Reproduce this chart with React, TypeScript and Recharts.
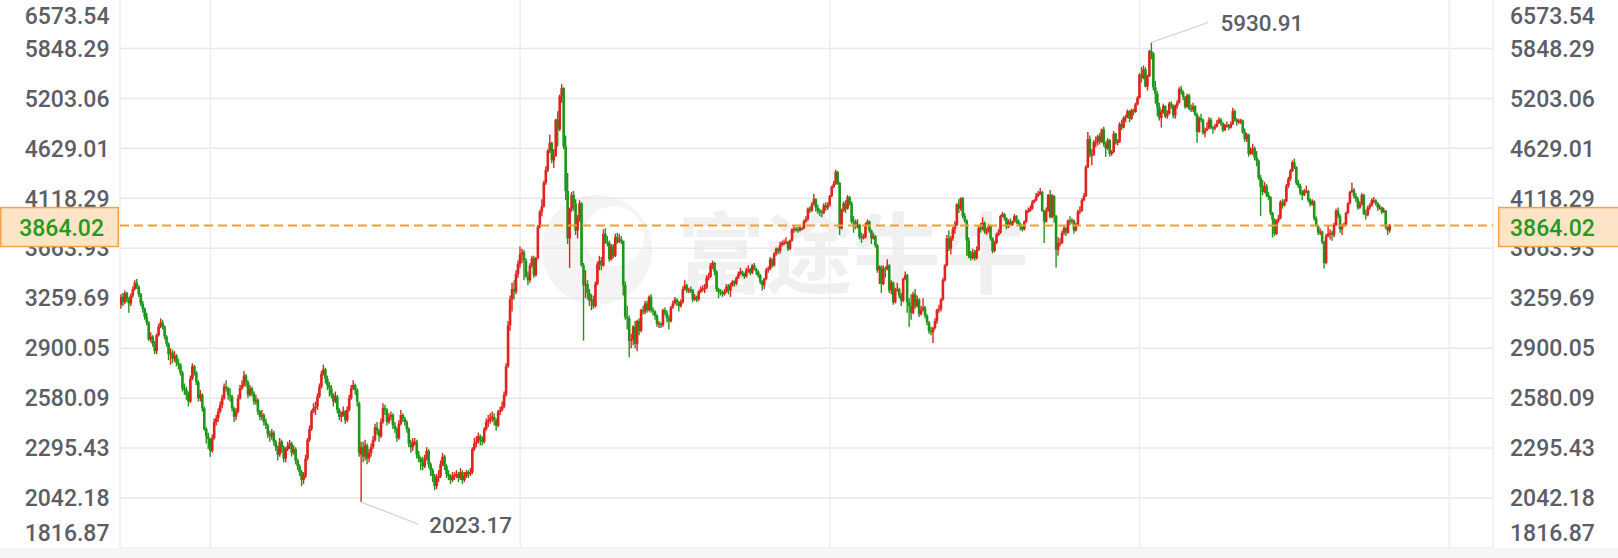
import React from 'react';
import { ComposedChart, Bar, XAxis, YAxis, CartesianGrid, ReferenceLine } from 'recharts';

type Candle = [number, number, number, number]; // open, high, low, close

const y2011: Candle[] = [
  [3210,3290,3180,3270],[3270,3300,3200,3230],[3230,3320,3215,3300],[3300,3310,3230,3250],[3250,3270,3150,3220],
  [3220,3295,3200,3280],[3280,3350,3265,3330],[3330,3400,3320,3380],[3380,3410,3330,3350],[3350,3360,3270,3290],
  [3290,3300,3200,3220],[3220,3240,3150,3180],[3180,3190,3100,3120],[3120,3150,3060,3080],[3080,3090,2950,2960],
  [2960,3010,2940,2980],[2980,2990,2910,2930],[2930,2950,2860,2880],[2880,3000,2860,2990],[2990,3070,2980,3050],
  [3050,3110,3040,3080],[3080,3100,3030,3050],[3050,3060,2960,2980],[2980,2990,2910,2930],[2930,2940,2820,2860],
  [2860,2900,2790,2870],[2870,2890,2800,2830],[2830,2880,2810,2850],[2850,2860,2780,2800],[2800,2830,2760,2790],
  [2790,2800,2720,2740],[2740,2750,2620,2640],[2640,2670,2600,2630],[2630,2650,2570,2600],[2600,2620,2530,2560],
  [2560,2720,2550,2700],[2700,2800,2690,2780],[2780,2790,2720,2740],[2740,2750,2660,2680],[2680,2690,2560,2580],
  [2580,2630,2560,2600],[2600,2610,2500,2520],[2520,2530,2390,2400],[2400,2410,2320,2360],[2360,2380,2290,2345],
];
const y2012: Candle[] = [
  [2345,2350,2250,2280],[2280,2370,2270,2350],[2350,2460,2340,2440],[2440,2480,2420,2460],[2460,2520,2440,2500],
  [2500,2560,2490,2540],[2540,2600,2520,2580],[2580,2670,2570,2650],[2650,2690,2620,2640],[2640,2650,2570,2600],
  [2600,2640,2560,2590],[2590,2600,2500,2520],[2520,2530,2440,2470],[2470,2520,2450,2500],[2500,2600,2490,2580],
  [2580,2660,2570,2640],[2640,2690,2630,2660],[2660,2750,2650,2720],[2720,2730,2650,2680],[2680,2690,2580,2600],
  [2600,2660,2590,2640],[2640,2650,2590,2610],[2610,2620,2540,2560],[2560,2600,2540,2570],[2570,2580,2480,2500],
  [2500,2510,2450,2470],[2470,2510,2450,2480],[2480,2490,2420,2440],[2440,2460,2400,2420],[2420,2430,2350,2370],
  [2370,2390,2330,2360],[2360,2400,2340,2380],[2380,2390,2310,2330],[2330,2340,2280,2300],[2300,2310,2230,2260],
  [2260,2350,2250,2330],[2330,2340,2270,2300],[2300,2310,2220,2240],[2240,2300,2220,2290],[2290,2330,2280,2310],
  [2310,2340,2290,2320],[2320,2330,2250,2270],[2270,2310,2260,2290],[2290,2300,2210,2230],[2230,2240,2180,2200],
  [2200,2210,2150,2170],[2170,2180,2100,2130],[2130,2170,2110,2150],[2150,2260,2140,2240],[2240,2350,2230,2340],
  [2340,2420,2330,2400],[2400,2510,2390,2500],
];
const y2013: Candle[] = [
  [2500,2550,2490,2520],[2520,2560,2480,2530],[2530,2610,2510,2590],[2590,2670,2580,2650],[2650,2750,2640,2730],
  [2730,2791,2720,2760],[2760,2770,2670,2700],[2700,2720,2630,2660],[2660,2680,2590,2640],[2640,2660,2580,2600],
  [2600,2610,2530,2560],[2560,2620,2550,2590],[2590,2600,2490,2510],[2510,2520,2450,2470],[2470,2500,2440,2480],
  [2480,2530,2470,2500],[2500,2510,2430,2450],[2450,2530,2440,2510],[2510,2600,2500,2580],[2580,2660,2570,2640],
  [2640,2690,2630,2660],[2660,2670,2600,2630],[2630,2640,2530,2560],[2550,2560,2250,2270],[2260,2330,2023.17,2300],
  [2300,2330,2220,2250],[2250,2340,2230,2310],[2310,2320,2210,2240],[2240,2290,2220,2270],[2270,2320,2250,2300],
  [2300,2360,2290,2340],[2340,2430,2330,2410],[2410,2440,2370,2390],[2390,2400,2330,2360],[2360,2460,2350,2440],
  [2440,2550,2430,2520],[2520,2540,2480,2510],[2510,2520,2420,2440],[2440,2490,2430,2470],[2470,2500,2450,2480],
  [2480,2490,2400,2420],[2420,2440,2380,2400],[2400,2410,2330,2350],[2350,2450,2340,2430],[2430,2510,2420,2480],
  [2480,2490,2440,2460],[2460,2470,2420,2440],[2440,2450,2380,2400],[2400,2410,2300,2320],[2320,2340,2270,2300],
  [2300,2350,2280,2330],[2320,2350,2310,2330],
];
const y2014: Candle[] = [
  [2330,2340,2240,2260],[2260,2280,2220,2240],[2240,2250,2180,2220],[2220,2250,2180,2200],[2200,2260,2190,2240],
  [2240,2300,2230,2280],[2280,2290,2190,2210],[2210,2220,2150,2180],[2180,2190,2120,2150],[2150,2160,2080,2100],
  [2100,2160,2086,2140],[2140,2180,2120,2150],[2150,2230,2140,2210],[2210,2270,2200,2250],[2250,2260,2180,2200],
  [2200,2210,2140,2160],[2160,2180,2130,2150],[2150,2160,2110,2130],[2130,2170,2120,2150],[2150,2170,2130,2155],
  [2150,2180,2140,2160],[2160,2170,2120,2140],[2140,2190,2130,2170],[2170,2180,2110,2130],[2130,2170,2120,2150],
  [2150,2180,2140,2170],[2170,2180,2140,2160],[2160,2190,2150,2170],[2170,2300,2160,2290],[2290,2350,2280,2320],
  [2320,2360,2300,2330],[2330,2380,2320,2360],[2360,2370,2310,2340],[2340,2360,2310,2330],[2330,2410,2320,2400],
  [2400,2460,2390,2440],[2440,2480,2410,2450],[2450,2490,2430,2460],[2460,2500,2440,2470],[2470,2490,2420,2450],
  [2450,2460,2390,2420],[2420,2510,2410,2500],[2500,2530,2480,2510],[2510,2560,2500,2530],[2530,2620,2520,2600],
  [2600,2800,2590,2780],[2780,3090,2770,3060],[3060,3280,3020,3250],[3250,3380,3160,3330],[3330,3400,3250,3310],
  [3310,3480,3290,3450],[3450,3560,3420,3530],
];
const y2015: Candle[] = [
  [3530,3680,3500,3610],[3610,3660,3540,3630],[3630,3650,3400,3560],[3560,3580,3420,3430],[3430,3470,3360,3400],
  [3400,3540,3380,3520],[3520,3600,3500,3580],[3580,3600,3420,3440],[3440,3590,3430,3580],[3580,3870,3570,3850],
  [3850,4010,3840,3990],[3990,4110,3950,4040],[4040,4290,4030,4270],[4270,4440,4250,4400],[4400,4620,4380,4600],
  [4600,4780,4580,4690],[4690,4700,4470,4500],[4500,4620,4420,4550],[4550,4960,4540,4950],[4950,5050,4650,4840],
  [4840,5250,4820,5230],[5230,5380,5150,5330],[5330,5340,4620,4650],[4650,4770,4100,4190],[4190,4370,3700,3750],
  [3750,4030,3500,4020],[4020,4180,3990,4150],[4150,4190,4000,4070],[4070,4110,3780,3820],[3820,3960,3750,3930],
  [3930,4100,3900,4070],[4070,4080,3510,3520],[3520,3540,2952,3360],[3360,3480,3260,3370],[3370,3400,3250,3300],
  [3300,3330,3200,3240],[3240,3290,3170,3250],[3250,3280,3180,3200],[3200,3390,3190,3370],[3370,3550,3360,3530],
  [3530,3600,3480,3560],[3560,3590,3480,3520],[3520,3830,3510,3790],[3790,3840,3700,3720],[3720,3770,3680,3710],
  [3710,3730,3550,3570],[3570,3700,3560,3680],[3680,3700,3580,3600],[3600,3790,3590,3760],[3760,3800,3700,3720],
  [3720,3790,3710,3740],[3740,3770,3700,3730],
];
const y2016: Candle[] = [
  [3730,3730,3280,3360],[3360,3390,3100,3120],[3120,3200,3030,3110],[3110,3130,2839,2950],[2950,3000,2900,2960],
  [2960,3060,2920,3050],[3050,3090,2900,2930],[2930,3100,2880,3090],[3090,3110,2990,3020],[3020,3180,3010,3170],
  [3170,3200,3140,3160],[3160,3240,3140,3220],[3220,3240,3150,3170],[3170,3280,3160,3270],[3270,3290,3150,3170],
  [3170,3190,3130,3160],[3160,3170,3100,3130],[3130,3140,3050,3070],[3070,3090,3040,3075],[3070,3080,3040,3060],
  [3060,3180,3050,3170],[3170,3190,3130,3150],[3150,3170,3080,3110],[3110,3130,3030,3090],[3090,3200,3080,3190],
  [3190,3240,3180,3220],[3220,3270,3210,3250],[3250,3260,3200,3230],[3230,3240,3160,3200],[3200,3250,3190,3230],
  [3230,3350,3220,3330],[3330,3400,3320,3360],[3360,3370,3300,3320],[3320,3340,3300,3325],[3325,3350,3300,3318],
  [3320,3330,3230,3250],[3250,3290,3240,3270],[3270,3280,3230,3250],[3250,3320,3240,3310],[3310,3350,3300,3330],
  [3330,3360,3310,3335],[3330,3370,3300,3340],[3340,3440,3330,3420],[3420,3460,3400,3430],[3430,3540,3420,3520],
  [3520,3560,3490,3540],[3540,3550,3440,3470],[3470,3480,3310,3330],[3330,3340,3260,3310],[3310,3330,3280,3300],
  [3300,3320,3270,3290],[3290,3330,3280,3310],
];
const y2017: Candle[] = [
  [3310,3370,3300,3350],[3350,3370,3290,3320],[3320,3380,3270,3360],[3360,3400,3350,3390],[3390,3400,3350,3370],
  [3370,3430,3360,3420],[3420,3470,3410,3450],[3450,3500,3440,3470],[3470,3480,3430,3450],[3450,3460,3410,3430],
  [3430,3500,3420,3480],[3480,3520,3460,3490],[3490,3500,3440,3460],[3460,3530,3450,3520],[3520,3540,3480,3490],
  [3490,3500,3440,3470],[3470,3480,3420,3440],[3440,3450,3370,3390],[3390,3400,3320,3360],[3360,3420,3330,3410],
  [3410,3500,3400,3480],[3480,3510,3460,3490],[3490,3590,3480,3570],[3570,3580,3500,3520],[3520,3630,3510,3620],
  [3620,3670,3600,3660],[3660,3670,3610,3640],[3640,3720,3620,3690],[3690,3730,3680,3710],[3705,3740,3690,3710],
  [3710,3760,3700,3720],[3720,3730,3640,3660],[3660,3740,3650,3730],[3730,3840,3720,3830],[3830,3860,3800,3835],
  [3830,3850,3810,3826],[3830,3850,3800,3820],[3820,3860,3810,3840],[3840,3850,3820,3836],[3840,3920,3830,3900],
  [3900,3950,3890,3920],[3920,4030,3910,4020],[4020,4040,3980,4000],[4000,4080,3990,4060],[4060,4160,4050,4110],
  [4110,4120,3990,4030],[4030,4060,3970,4000],[4000,4020,3950,3990],[3990,4010,3940,3980],[3980,4070,3970,4050],
  [4050,4080,4000,4030],[4030,4080,4010,4050],
];
const y2018: Candle[] = [
  [4050,4150,4040,4140],[4140,4240,4130,4230],[4230,4290,4220,4260],[4260,4403,4250,4380],[4380,4390,4250,4270],
  [4270,4280,3780,3840],[3840,4020,3830,4000],[4000,4090,3990,4070],[4070,4100,3980,4020],[4020,4150,4010,4130],
  [4130,4140,4050,4070],[4070,4090,3880,3900],[3905,3950,3800,3900],[3900,3920,3830,3850],[3850,3920,3840,3870],
  [3870,3880,3740,3760],[3765,3800,3710,3760],[3755,3790,3740,3762],[3760,3890,3750,3870],[3870,3920,3860,3900],
  [3900,3910,3800,3820],[3820,3830,3700,3750],[3750,3800,3740,3770],[3770,3780,3670,3690],[3690,3700,3460,3480],
  [3480,3520,3370,3510],[3510,3520,3300,3370],[3370,3520,3360,3490],[3495,3510,3420,3490],[3490,3570,3480,3520],
  [3520,3530,3300,3320],[3320,3400,3290,3380],[3380,3390,3210,3230],[3230,3340,3220,3320],[3320,3380,3310,3330],
  [3330,3340,3260,3280],[3280,3300,3200,3240],[3240,3420,3230,3410],[3410,3470,3400,3440],[3440,3450,3150,3230],
  [3230,3260,3050,3200],[3200,3290,3100,3150],[3150,3310,3140,3290],[3290,3330,3180,3200],[3200,3280,3190,3250],
  [3250,3260,3120,3140],[3140,3200,3130,3170],[3170,3260,3160,3190],[3190,3200,3110,3130],[3130,3140,3060,3080],
  [3080,3090,3000,3020],[3020,3050,2990,3010],
];
const y2019: Candle[] = [
  [3010,3050,2935,3040],[3040,3110,3030,3090],[3090,3180,3070,3170],[3170,3210,3150,3180],[3180,3260,3160,3250],
  [3250,3420,3240,3400],[3400,3530,3390,3520],[3520,3780,3510,3750],[3750,3820,3640,3660],[3660,3770,3610,3750],
  [3750,3850,3730,3830],[3830,3900,3790,3870],[3870,4070,3860,4060],[4060,4110,3980,4020],[4020,4127,4000,4120],
  [4120,4130,3930,3950],[3950,3980,3890,3910],[3910,3920,3600,3730],[3730,3760,3580,3600],[3600,3640,3560,3580],
  [3580,3660,3570,3630],[3630,3650,3560,3580],[3580,3680,3570,3650],[3650,3860,3640,3840],[3840,3890,3800,3830],
  [3830,3940,3820,3890],[3890,3900,3790,3810],[3805,3840,3780,3810],[3810,3880,3800,3860],[3860,3870,3730,3750],
  [3750,3760,3620,3640],[3640,3730,3630,3710],[3710,3800,3700,3780],[3780,3830,3770,3800],[3800,3960,3790,3950],
  [3950,3990,3940,3970],[3970,3980,3910,3930],[3930,3940,3830,3850],[3850,3920,3840,3900],[3900,3930,3860,3870],
  [3870,3910,3860,3900],[3900,3970,3890,3950],[3950,3960,3880,3910],[3910,3920,3860,3880],[3880,3890,3820,3850],
  [3850,3870,3810,3830],[3830,3910,3820,3900],[3900,4010,3890,4000],[3995,4030,3980,4000],[4000,4050,3990,4020],
  [4020,4100,4010,4080],[4080,4110,4070,4100],
];
const y2020: Candle[] = [
  [4100,4170,4090,4140],[4140,4190,4130,4160],[4160,4220,4150,4180],[4180,4190,3990,4000],[4000,4010,3710,3900],
  [3900,4030,3890,4000],[4000,4160,3990,4150],[4150,4200,3930,3940],[3940,4160,3930,4140],[4140,4150,3890,3950],
  [3950,3960,3503,3650],[3650,3760,3600,3710],[3705,3750,3680,3710],[3710,3820,3700,3800],[3800,3860,3780,3840],
  [3840,3850,3770,3800],[3800,3920,3790,3910],[3910,3950,3870,3900],[3900,3930,3880,3910],[3910,3920,3790,3820],
  [3820,3890,3810,3870],[3870,4010,3860,3990],[3990,4040,3970,4000],[4000,4120,3990,4100],[4100,4170,4090,4140],
  [4140,4450,4130,4430],[4430,4810,4420,4730],[4730,4770,4530,4560],[4555,4620,4450,4560],[4560,4720,4550,4700],
  [4695,4760,4640,4700],[4700,4780,4660,4760],[4760,4800,4670,4700],[4700,4850,4690,4840],[4840,4870,4650,4680],
  [4680,4700,4540,4630],[4630,4740,4610,4720],[4720,4730,4540,4570],[4570,4610,4550,4590],[4590,4820,4580,4790],
  [4790,4800,4670,4690],[4690,4730,4660,4700],[4700,4920,4690,4900],[4900,4950,4830,4860],[4860,4990,4850,4970],
  [4970,5010,4920,4980],[4980,5070,4970,5050],[5050,5060,4920,4960],[4960,5080,4950,5060],[5060,5080,5000,5040],
  [5040,5150,5030,5130],[5130,5230,5120,5210],
];
const y2021: Candle[] = [
  [5210,5520,5200,5500],[5500,5600,5400,5460],[5460,5620,5440,5570],[5570,5600,5340,5350],[5350,5500,5300,5480],
  [5480,5830,5470,5810],[5810,5930.91,5700,5780],[5780,5800,5300,5340],[5340,5420,5140,5260],[5260,5290,4990,5100],
  [5100,5150,4940,4970],[4970,5070,4860,5040],[5040,5140,5020,5110],[5110,5120,4970,4990],[4990,5060,4960,5020],
  [5020,5160,5010,5140],[5140,5170,5080,5120],[5120,5130,4970,5000],[5000,5130,4960,5110],[5110,5180,5080,5150],
  [5150,5340,5140,5320],[5320,5360,5250,5280],[5280,5300,5180,5220],[5220,5230,5080,5100],[5100,5260,5090,5240],
  [5240,5260,5060,5080],[5080,5130,5040,5070],[5070,5150,5040,5110],[5110,5120,4990,5010],[5010,5030,4690,4810],
  [4810,4990,4800,4970],[4970,5020,4920,4950],[4950,4960,4780,4800],[4800,4860,4750,4830],[4830,4920,4820,4850],
  [4850,4980,4840,4950],[4950,4970,4840,4860],[4860,4880,4790,4850],[4850,4900,4830,4870],[4870,4950,4860,4910],
  [4910,4980,4900,4950],[4950,4970,4880,4910],[4910,4920,4810,4830],[4830,4900,4820,4890],[4885,4930,4860,4890],
  [4890,4900,4830,4860],[4860,4930,4850,4900],[4900,5090,4890,5050],[5050,5070,4930,4950],[4950,4970,4880,4920],
  [4920,4960,4900,4940],[4930,4960,4900,4940],
];
const y2022: Candle[] = [
  [4940,4950,4790,4810],[4810,4850,4700,4730],[4730,4800,4700,4780],[4780,4790,4540,4570],[4570,4640,4560,4600],
  [4600,4680,4560,4630],[4630,4650,4500,4530],[4530,4600,4440,4500],[4500,4510,4300,4320],[4320,4350,3950,4230],
  [4230,4300,4150,4180],[4180,4280,4170,4240],[4240,4260,4130,4150],[4150,4180,4100,4130],[4130,4140,3960,3980],
  [3980,3990,3757,3920],[3920,3930,3770,3790],[3790,3920,3780,3910],[3910,3960,3890,3930],[3930,4100,3920,4080],
  [4080,4110,4020,4050],[4050,4110,4040,4090],[4090,4260,4080,4240],[4240,4330,4220,4310],[4310,4410,4290,4390],
  [4390,4500,4380,4480],[4480,4520,4410,4430],[4430,4440,4250,4270],[4270,4300,4220,4240],[4240,4260,4150,4170],
  [4170,4200,4100,4150],[4150,4210,4140,4190],[4180,4240,4170,4190],[4190,4200,4080,4100],[4100,4120,4040,4060],
  [4060,4110,4050,4090],[4090,4100,3910,3930],[3930,3950,3850,3860],[3860,3870,3780,3800],[3800,3840,3780,3810],
  [3810,3820,3700,3720],[3720,3730,3495,3540],[3540,3790,3530,3770],[3770,3870,3760,3790],[3790,3830,3740,3800],
  [3800,3820,3730,3780],[3780,3890,3760,3870],[3870,4020,3860,4000],[4000,4030,3930,3950],[3950,3970,3800,3830],
  [3830,3880,3780,3870],[3860,3890,3850,3870],
];
const y2023: Candle[] = [
  [3870,3990,3860,3980],[3980,4080,3970,4070],[4070,4190,4060,4180],[4180,4270,4170,4200],[4200,4220,4120,4140],
  [4140,4170,4080,4110],[4110,4130,4010,4030],[4030,4090,4020,4060],[4060,4170,4050,4150],[4150,4160,3960,3970],
  [3970,4010,3920,3960],[3960,4050,3950,4030],[4030,4070,4010,4050],[4050,4120,4040,4100],[4090,4130,4070,4100],
  [4100,4110,4050,4070],[4070,4080,4000,4030],[4020,4060,4010,4030],[4030,4040,3970,3990],[3990,4030,3980,4000],
  [4000,4010,3830,3850],[3850,3860,3780,3820],[3820,3880,3800,3864.02],
];

const priceTicks = [1816.87, 2042.18, 2295.43, 2580.09, 2900.05, 3259.69, 3663.93, 4118.29, 4629.01, 5203.06, 5848.29, 6573.54];
const lastPrice = 3864.02;
// candle index of the first week of 2012, 2015, 2018, 2021, 2024
const yearLineIdx = [45, 201, 357, 513, 669];
const xDomain: [number, number] = [-0.5, 691];

const allCandles: Candle[] = [
  ...y2011, ...y2012, ...y2013, ...y2014, ...y2015, ...y2016, ...y2017,
  ...y2018, ...y2019, ...y2020, ...y2021, ...y2022, ...y2023,
];
const data = allCandles.map((k, i) => ({ i, o: k[0], h: k[1], l: k[2], c: k[3] }));
const maxHigh = Math.max(...data.map((d) => d.h));
const minLow = Math.min(...data.map((d) => d.l));
const tickMax = priceTicks[priceTicks.length - 1];
const tickMin = priceTicks[0];

const RED = '#e0231d';
const GREEN = '#1e961a';
const LABEL = '#5b5e66';
const FONT = 'Roboto, "DejaVu Sans", sans-serif';
const fmt = (v: number) => v.toFixed(2);

function CandleShape(props: any) {
  const { x, y, width, height, payload } = props;
  if (x == null || y == null || !payload) return null;
  const cx = x + width / 2;
  const top = Math.min(y, y + height);
  const bot = Math.max(y, y + height);
  const { o, h, l, c } = payload;
  const lh = Math.log(h);
  const span = lh - Math.log(l) || 1;
  const py = (v: number) => top + ((lh - Math.log(v)) / span) * (bot - top);
  const up = c >= o;
  const color = up ? RED : GREEN;
  const bTop = py(Math.max(o, c));
  const bBot = py(Math.min(o, c));
  return (
    <g>
      <line x1={cx} x2={cx} y1={top} y2={bot} stroke={color} strokeWidth={1.4} />
      <rect x={cx - 1.3} y={bTop} width={2.6} height={Math.max(bBot - bTop, 1.2)} fill={color} />
      {h === maxHigh && (
        <g>
          <line x1={cx} y1={top} x2={cx + 57} y2={top - 20} stroke="#d6d6d6" strokeWidth={1.3} />
          <text x={cx + 69} y={top - 19.5 + 8.2} fill={LABEL} fontSize={22.5} fontWeight={500} fontFamily={FONT}>{fmt(h)}</text>
        </g>
      )}
      {l === minLow && (
        <g>
          <line x1={cx} y1={bot} x2={cx + 57} y2={bot + 22} stroke="#d6d6d6" strokeWidth={1.3} />
          <text x={cx + 68} y={bot + 22.7 + 8.2} fill={LABEL} fontSize={22.5} fontWeight={500} fontFamily={FONT}>{fmt(l)}</text>
        </g>
      )}
    </g>
  );
}

function makeTick(side: 'L' | 'R') {
  return (props: any) => {
    const { y, payload } = props;
    const v = payload?.value;
    const left = side === 'L';
    if (v === lastPrice) {
      return (
        <g>
          <rect x={left ? 0.75 : 1498.75} y={y - 18} width={left ? 117.5 : 120} height={39}
            fill="#fde4c6" stroke="#f1a346" strokeWidth={1.5} />
          <text x={left ? 104 : 1510} y={y + 2 + 8.2} textAnchor={left ? 'end' : 'start'}
            fill="#239a22" fontSize={23} fontWeight={500} fontFamily={FONT}>{fmt(v)}</text>
        </g>
      );
    }
    let ty = y;
    if (v === tickMax) ty = y + 17.5;
    if (v === tickMin) ty = y - 15;
    return (
      <text x={left ? 109.5 : 1510} y={ty + 8.2} textAnchor={left ? 'end' : 'start'}
        fill={LABEL} fontSize={23} fontWeight={500} fontFamily={FONT}>{fmt(v)}</text>
    );
  };
}

const verticalValues = [xDomain[0], ...yearLineIdx, xDomain[1]];

export default function App() {
  return (
    <div style={{ position: 'absolute', left: 0, top: 0, width: 1618, height: 558, overflow: 'hidden', background: '#ffffff' }}>
      <svg width={1618} height={558} style={{ position: 'absolute', left: 0, top: 0 }}>
        <circle cx={597} cy={250} r={55} fill="#000" opacity={0.045} />
        <circle cx={614} cy={236} r={30} fill="#fff" opacity={0.95} />
        <text x={677} y={286} fontSize={88} fontWeight={700} fontFamily='"Noto Sans CJK SC", sans-serif'
          fill="#000" opacity={0.055}>富途牛牛</text>
      </svg>
      <div style={{ position: 'absolute', left: 0, top: -12 }}>
        <ComposedChart width={1618} height={572} data={data} margin={{ top: 10.5, right: 0, bottom: 12, left: 0 }}>
          <CartesianGrid yAxisId="L" horizontal={true} vertical={false} stroke="#e8e8ea" strokeWidth={1.5}
            horizontalValues={priceTicks} />
          <CartesianGrid yAxisId="L" horizontal={false} vertical={true} stroke="#eeeef0" strokeWidth={1.5}
            verticalValues={verticalValues} />
          <XAxis dataKey="i" type="number" domain={xDomain} allowDataOverflow hide interval={0} />
          <YAxis yAxisId="L" orientation="left" width={120} type="number" scale="log"
            domain={[tickMin, tickMax]} allowDataOverflow ticks={[...priceTicks, lastPrice]} interval={0}
            axisLine={false} tickLine={false} tick={makeTick('L')} />
          <YAxis yAxisId="R" orientation="right" width={125} type="number" scale="log"
            domain={[tickMin, tickMax]} allowDataOverflow ticks={[...priceTicks, lastPrice]} interval={0}
            axisLine={false} tickLine={false} tick={makeTick('R')} />
          <Bar yAxisId="L" dataKey={(d: any) => [d.l, d.h]} barSize={2} isAnimationActive={false} shape={CandleShape} />
          <ReferenceLine yAxisId="L" y={lastPrice} stroke="#f0a030" strokeWidth={2} strokeDasharray="9 5" />
        </ComposedChart>
      </div>
      <div style={{ position: 'absolute', left: 0, top: 548, width: 1618, height: 10, background: '#f5f6f8' }} />
    </div>
  );
}
